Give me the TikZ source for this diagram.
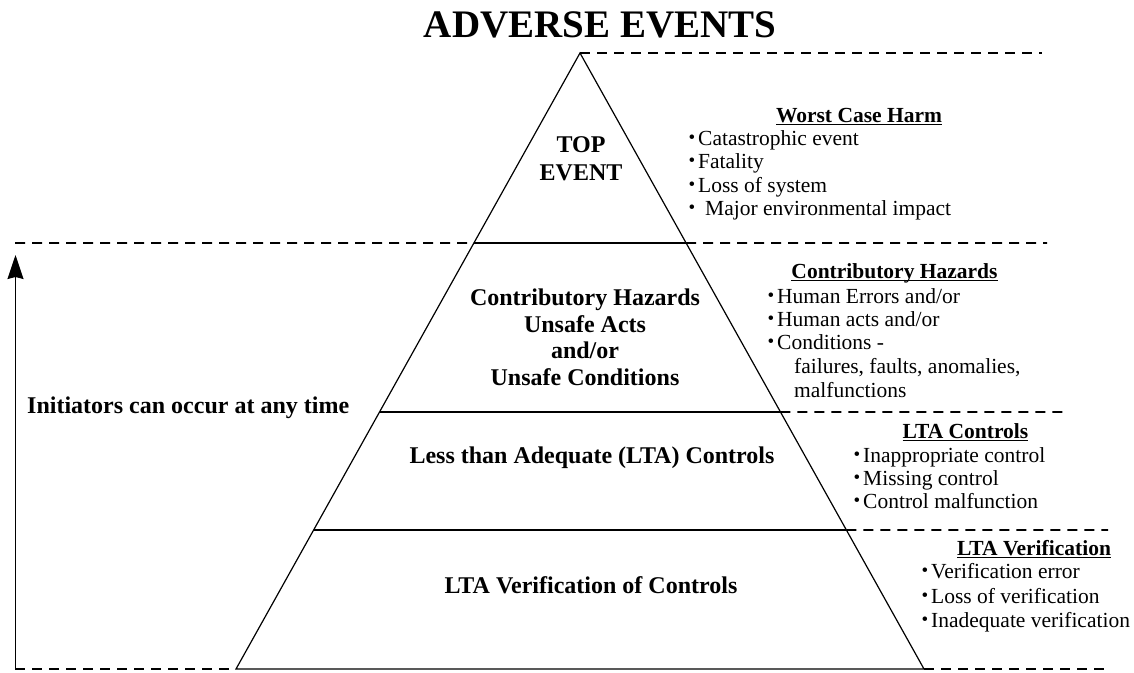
\documentclass[tikz,border=0pt]{standalone}
\usepackage{fontspec}
\setmainfont{Liberation Serif}
\usetikzlibrary{arrows.meta,calc}

% small raised bullet hung to the left of an item's text
\newcommand{\bul}{\llap{\raisebox{1.5pt}{\fontsize{19}{19}\selectfont •}\hspace{3pt}}}
% underline at a fixed depth, crossing descenders
\newcommand{\hul}[1]{\setbox0\hbox{#1}\rlap{\rule[-2.5pt]{\wd0}{0.9pt}}\box0}

\begin{document}
\begin{tikzpicture}[x=1pt,y=-1pt,
  edge/.style={line width=1.2pt, line join=miter},
  guide/.style={line width=1.6pt, dash pattern=on 10pt off 7pt},
  lvl/.style={font=\fontsize{24}{28}\selectfont\bfseries, inner sep=0pt, anchor=base},
  head/.style={font=\fontsize{21.5}{24}\selectfont\bfseries, inner sep=0pt, anchor=base},
  item/.style={font=\fontsize{21.5}{24}\selectfont, inner sep=0pt, anchor=base west},
]
\useasboundingbox (0,0) rectangle (1134,672);

% pyramid corners and level cuts
\coordinate (apex) at (580,53);
\coordinate (bl) at (236,669);
\coordinate (br) at (924,669);
\coordinate (l1) at ($(apex)!0.3084!(bl)$);
\coordinate (r1) at ($(apex)!0.3084!(br)$);
\coordinate (l2) at ($(apex)!0.5828!(bl)$);
\coordinate (r2) at ($(apex)!0.5828!(br)$);
\coordinate (l3) at ($(apex)!0.7744!(bl)$);
\coordinate (r3) at ($(apex)!0.7744!(br)$);

\draw[edge] (apex) -- (bl) -- (br) -- cycle;
\draw[edge] (l1) -- (r1);
\draw[edge] (l2) -- (r2);
\draw[edge] (l3) -- (r3);

% dashed level guides
\coordinate (g0e) at (1042,53);
\coordinate (g1w) at (15,243);
\coordinate (g1e) at (1047,243);
\coordinate (g2e) at (1068,412);
\coordinate (g3e) at (1108,530);
\coordinate (g4e) at (1108,669);
\coordinate (g4w) at (15,669);
\draw[guide] (apex) -- (g0e);
\draw[guide] (g1w) -- (l1);
\draw[guide] (r1) -- (g1e);
\draw[guide] (r2) -- (g2e);
\draw[guide] (r3) -- (g3e);
\draw[guide] (br) -- (g4e);
\draw[guide] (g4w) -- (bl);

% time arrow
\coordinate (abase) at (15.5,669);
\coordinate (atip) at (15.5,255);
\draw[line width=1.3pt, -{Stealth[length=24pt,width=16pt,inset=2pt]}] (abase) -- (atip);

% title
\node[font=\fontsize{39}{39}\selectfont\bfseries, inner sep=0pt, anchor=base] (title) at (600,37) {ADVERSE EVENTS};

% level labels
\node[lvl] (top1) at (581,152) {TOP};
\node[lvl] (top2) at (581,180) {EVENT};
\node[lvl] (ch1) at (585,305) {Contributory Hazards};
\node[lvl] (ch2) at (585,332) {Unsafe Acts};
\node[lvl] (ch3) at (585,358) {and/or};
\node[lvl] (ch4) at (585,385) {Unsafe Conditions};
\node[lvl] (lta) at (592,463) {Less than Adequate (LTA) Controls};
\node[lvl] (ver) at (591,593) {LTA Verification of Controls};
\node[lvl, anchor=base west] (init) at (27,413) {Initiators can occur at any time};

% worst case harm
\node[head] (h1) at (859,122) {\hul{Worst Case Harm}};
\node[item] (w1) at (698,145) {\bul Catastrophic event};
\node[item] (w2) at (698,168) {\bul Fatality};
\node[item] (w3) at (698,192) {\bul Loss of system};
\node[item] (w4) at (698,215) {\bul\hspace{7pt}Major environmental impact};

% contributory hazards
\node[head] (h2) at (894.5,278) {\hul{Contributory Hazards}};
\node[item] (c1) at (777,303) {\bul Human Errors and/or};
\node[item] (c2) at (777,326) {\bul Human acts and/or};
\node[item] (c3) at (777,349) {\bul Conditions -};
\node[item] (c4) at (794,373) {failures, faults, anomalies,};
\node[item] (c5) at (794,397) {malfunctions};

% LTA controls
\node[head] (h3) at (965.5,438) {\hul{LTA Controls}};
\node[item] (k1) at (863,462) {\bul Inappropriate control};
\node[item] (k2) at (863,485) {\bul Missing control};
\node[item] (k3) at (863,508) {\bul Control malfunction};

% LTA verification
\node[head] (h4) at (1034,555) {\hul{LTA Verification}};
\node[item] (v1) at (931,578) {\bul Verification error};
\node[item] (v2) at (931,603) {\bul Loss of verification};
\node[item] (v3) at (931,627) {\bul Inadequate verification};
\end{tikzpicture}
\end{document}
